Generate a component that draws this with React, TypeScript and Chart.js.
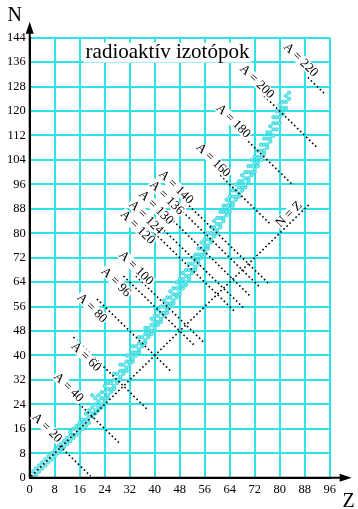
import React, { useEffect, useRef } from "react";
import { Chart, registerables } from "chart.js";
Chart.register(...registerables);

// ---- data ----
const zTickStep = 8;
const nTickStep = 8;
const zMax = 96;
const nMax = 144;

// radioactive isotopes: N values listed for each Z = 1..83
const isotopeNByZ: number[][] = [
  [0, 2], [1, 3], [2, 4], [3, 5], [4, 6], [5, 7], [6, 8], [7, 8, 9], [8, 10], [9, 10, 11],
  [10, 12], [11, 12, 13], [12, 14, 15], [13, 14, 16], [14, 16, 17], [15, 17, 18],
  [16, 18, 19], [17, 19, 21], [18, 20, 22], [20, 21, 23, 27],
  [21, 22, 24, 26], [22, 23, 25, 27], [23, 24, 26, 28],
  [25, 26, 28, 30], [26, 27, 29, 31], [28, 29, 31], [29, 30, 32, 34],
  [31, 32, 34], [32, 33, 35, 37], [34, 35, 37], [35, 36, 38, 40],
  [37, 38, 40], [38, 39, 41, 43], [40, 41, 43], [41, 42, 44, 46],
  [43, 44, 46], [44, 45, 47, 49], [46, 47, 49], [47, 48, 50, 52],
  [48, 49, 51, 53], [50, 51, 53, 55], [51, 52, 54, 56], [53, 54, 56, 58],
  [54, 55, 57, 59], [56, 57, 59, 61], [57, 58, 60, 62],
  [59, 60, 62, 64], [60, 61, 63, 65], [62, 63, 65, 67],
  [63, 64, 66, 68], [65, 66, 68, 70], [67, 68, 70, 72],
  [68, 69, 71, 73], [70, 71, 73, 75], [72, 73, 75, 77],
  [73, 74, 76, 78], [75, 76, 78, 80], [77, 78, 80, 82],
  [79, 80, 82, 84], [80, 81, 83, 85], [82, 83, 85, 87],
  [84, 85, 87, 89], [86, 87, 89, 91], [87, 88, 90, 92],
  [89, 90, 92, 94], [91, 92, 94, 96], [92, 93, 95, 97],
  [94, 95, 97, 99], [95, 96, 98, 100], [97, 98, 100, 102],
  [99, 100, 102, 104], [100, 101, 103, 105], [102, 103, 105, 107],
  [104, 105, 107, 109], [106, 107, 109, 111], [108, 109, 111, 113],
  [110, 111, 113, 115], [112, 114, 116, 118], [114, 116, 118, 120],
  [116, 118, 120, 122], [119, 121, 123], [121, 123, 125],
  [124, 126],
];

// constant mass-number lines Z + N = A
const massNumbers = [20, 40, 60, 80, 96, 100, 120, 124, 130, 136, 140, 160, 180, 200, 220];
const lineZStart = [1, 8, 14, 21.5, 30, 34, 40, 42, 44, 47, 50, 61, 68, 75, 89];
const lineZEnd = [19.5, 28.5, 38, 45.5, 53, 56, 65.6, 68.3, 70.9, 73.6, 76.3, 77, 84.3, 91.7, 94.5];
const labelZ = [5.5, 12.4, 18, 19.9, 27.6, 34, 34.5, 37.2, 40.4, 43.8, 46.8, 58.7, 65.1, 72.7, 86.7];
const labelN = [16.3, 29.5, 39.5, 55.5, 64, 68.6, 81.9, 85.2, 88.4, 91.6, 95.1, 103.9, 116.7, 129.6, 136.7];

// N = Z line
const nzLineStart = 0.5;
const nzLineEnd = 89.5;
const nzLabelZ = 83;
const nzLabelN = 86.2;

const titleText = "radioaktív izotópok";
const titleZ = 44.1;
const titleN = 137.5;

const SERIF = "'Liberation Serif', 'DejaVu Serif', serif";
const GRID = "#2ee3e6";

const overlayPlugin = {
  id: "overlay",
  afterDraw(chart: any) {
    const { ctx, chartArea, scales } = chart;
    const xs = scales.x;
    const ys = scales.y;
    const ux = xs.getPixelForValue(1) - xs.getPixelForValue(0);
    const uy = ys.getPixelForValue(0) - ys.getPixelForValue(1);
    const ang = Math.atan2(uy, ux);
    ctx.save();

    // axes with arrows
    ctx.strokeStyle = "#000";
    ctx.fillStyle = "#000";
    ctx.lineWidth = 2;
    const L = chartArea.left;
    const B = chartArea.bottom;
    ctx.beginPath();
    ctx.moveTo(L, B);
    ctx.lineTo(L, chartArea.top - 6);
    ctx.moveTo(L, B);
    ctx.lineTo(chartArea.right + 12, B);
    ctx.stroke();
    ctx.beginPath();
    ctx.moveTo(L, chartArea.top - 16);
    ctx.lineTo(L - 4, chartArea.top - 4);
    ctx.lineTo(L + 4, chartArea.top - 4);
    ctx.closePath();
    ctx.fill();
    ctx.beginPath();
    ctx.moveTo(chartArea.right + 22, B);
    ctx.lineTo(chartArea.right + 10, B - 4);
    ctx.lineTo(chartArea.right + 10, B + 4);
    ctx.closePath();
    ctx.fill();

    // axis letters
    ctx.font = `20px ${SERIF}`;
    ctx.textAlign = "center";
    ctx.textBaseline = "alphabetic";
    ctx.fillText("N", L - 15, chartArea.top - 17);
    ctx.fillText("Z", chartArea.right + 19, B + 29);

    const boxedText = (text: string, x: number, y: number, rot: number, size: number) => {
      ctx.save();
      ctx.translate(x, y);
      ctx.rotate(rot);
      ctx.font = `${size}px ${SERIF}`;
      const w = ctx.measureText(text).width;
      ctx.fillStyle = "#fff";
      ctx.fillRect(-w / 2 - 1, -size * 0.45, w + 2, size * 0.85);
      ctx.fillStyle = "#000";
      ctx.textAlign = "center";
      ctx.textBaseline = "middle";
      ctx.fillText(text, 0, 0);
      ctx.restore();
    };

    // title
    {
      const tx = xs.getPixelForValue(titleZ);
      const ty = ys.getPixelForValue(titleN);
      ctx.font = `21px ${SERIF}`;
      const w = ctx.measureText(titleText).width;
      ctx.fillStyle = "#fff";
      ctx.fillRect(tx - w / 2 - 2, ty - 15, w + 4, 20);
      ctx.fillStyle = "#000";
      ctx.textAlign = "center";
      ctx.textBaseline = "alphabetic";
      ctx.fillText(titleText, tx, ty);
    }

    // A labels
    massNumbers.forEach((a, i) => {
      boxedText(`A = ${a}`, xs.getPixelForValue(labelZ[i]), ys.getPixelForValue(labelN[i]), ang, 13);
    });
    boxedText("N = Z", xs.getPixelForValue(nzLabelZ), ys.getPixelForValue(nzLabelN), -ang, 13);

    ctx.restore();
  },
};

export default function App() {
  const ref = useRef<HTMLCanvasElement | null>(null);
  useEffect(() => {
    if (!ref.current) return;
    const isoPoints: { x: number; y: number }[] = [];
    isotopeNByZ.forEach((ns, i) => ns.forEach((n) => isoPoints.push({ x: i + 1, y: n })));

    const dotted = {
      type: "line",
      borderColor: "#000",
      borderWidth: 1.6,
      borderDash: [1.6, 2.6],
      pointRadius: 0,
      showLine: true,
      fill: false,
      order: 0,
    };
    const lineSets: any[] = massNumbers.map((a, i) => ({
      ...dotted,
      data: [
        { x: lineZStart[i], y: a - lineZStart[i] },
        { x: lineZEnd[i], y: a - lineZEnd[i] },
      ],
    }));
    lineSets.push({
      ...dotted,
      data: [
        { x: nzLineStart, y: nzLineStart },
        { x: nzLineEnd, y: nzLineEnd },
      ],
    });

    const chart = new Chart(ref.current, {
      type: "scatter",
      data: {
        datasets: [
          ...lineSets,
          {
            type: "scatter",
            data: isoPoints,
            pointRadius: 1.7,
            pointBackgroundColor: "#7fe9ec",
            pointBorderColor: "#1fd3da",
            pointBorderWidth: 0.8,
            order: 1,
          },
        ],
      },
      options: {
        animation: false,
        responsive: false,
        events: [],
        layout: { padding: { left: 0, top: 37.7, right: 28.3, bottom: 7.3 } },
        plugins: { legend: { display: false }, tooltip: { enabled: false }, title: { display: false } },
        scales: {
          x: {
            type: "linear",
            min: 0,
            max: zMax,
            afterFit: (s: any) => {
              s.height = 24;
            },
            ticks: { stepSize: zTickStep, padding: 5, color: "#000", font: { family: SERIF, size: 12.5 }, maxRotation: 0 },
            grid: { color: GRID, lineWidth: 2, drawTicks: false },
            border: { color: "#000", width: 2 },
          },
          y: {
            type: "linear",
            min: 0,
            max: nMax,
            afterFit: (s: any) => {
              s.width = 29.7;
            },
            ticks: { stepSize: nTickStep, padding: 4, color: "#000", font: { family: SERIF, size: 12.5 } },
            grid: { color: GRID, lineWidth: 2, drawTicks: false },
            border: { color: "#000", width: 2 },
          },
        },
      },
      plugins: [overlayPlugin],
    });
    return () => chart.destroy();
  }, []);
  return (
    <div style={{ position: "absolute", left: 0, top: 0, width: 358, height: 509, background: "#fff" }}>
      <canvas ref={ref} width={358} height={509} />
    </div>
  );
}
